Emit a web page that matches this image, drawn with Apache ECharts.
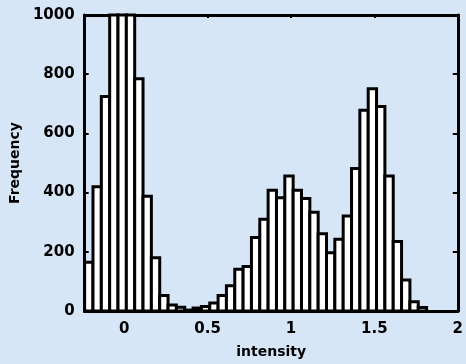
<!DOCTYPE html>
<html>
<head>
<meta charset="utf-8">
<script src="https://cdn.jsdelivr.net/npm/echarts@6/dist/echarts.min.js"></script>
<style>
  html, body { margin: 0; padding: 0; background: #d7e6f6; }
  #chart { width: 466px; height: 364px; }
</style>
</head>
<body>
<div id="chart"></div>
<script>
// histogram bins: first left edge and bin width (x units)
const binStart = -0.237;
const binWidth = 0.05;
// counts per bin (the three >1000 bins run off the top)
const counts = [
  165, 420, 725, 1150, 1150, 1150, 785, 388, 180, 52,
  20, 13, 3, 10, 15, 27, 52, 85, 141, 150,
  248, 310, 408, 383, 456, 408, 380, 334, 261, 197,
  242, 321, 481, 678, 751, 691, 456, 235, 105, 31,
  12
];
const xTicks = [0, 0.5, 1, 1.5, 2];
const yTicks = [0, 200, 400, 600, 800, 1000];

const bins = counts.map((c, i) => [binStart + i * binWidth, binStart + (i + 1) * binWidth, c]);

const font = { fontFamily: "DejaVu Sans", fontWeight: "bold", color: "#000" };

function renderBin(params, api) {
  const p0 = api.coord([api.value(0), 0]);
  const p1 = api.coord([api.value(1), api.value(2)]);
  const cs = params.coordSys;
  const shape = echarts.graphic.clipRectByRect(
    { x: p0[0], y: p1[1], width: p1[0] - p0[0], height: p0[1] - p1[1] },
    { x: cs.x, y: cs.y, width: cs.width, height: cs.height }
  );
  return shape && {
    type: "rect",
    shape: shape,
    style: { fill: "#fff", stroke: "#000", lineWidth: 3 },
  };
}

const chart = echarts.init(document.getElementById("chart"));
const line = { show: true, onZero: false, lineStyle: { color: "#000", width: 3 } };
const tick = (len) => ({ inside: true, length: len, lineStyle: { color: "#000", width: 2 } });
chart.setOption({
  backgroundColor: "#d7e6f6",
  animation: false,
  grid: { left: 82, right: 5, top: 15, bottom: 52 },
  xAxis: [
    {
      type: "value",
      min: binStart,
      max: 2,
      position: "bottom",
      name: "intensity",
      nameLocation: "middle",
      nameGap: 34,
      nameTextStyle: Object.assign({ fontSize: 14 }, font),
      axisLine: line,
      axisTick: Object.assign(tick(4), { customValues: xTicks }),
      axisLabel: Object.assign({ fontSize: 15, margin: 11, customValues: xTicks }, font),
      splitLine: { show: false },
    },
    {
      type: "value",
      min: binStart,
      max: 2,
      position: "top",
      axisLine: line,
      axisTick: Object.assign(tick(3), { customValues: xTicks }),
      axisLabel: { show: false },
      splitLine: { show: false },
    },
  ],
  yAxis: [
    {
      type: "value",
      min: yTicks[0],
      max: yTicks[yTicks.length - 1],
      interval: 200,
      position: "left",
      name: "Frequency",
      nameLocation: "middle",
      nameGap: 58,
      nameTextStyle: Object.assign({ fontSize: 14 }, font),
      axisLine: line,
      axisTick: tick(4),
      axisLabel: Object.assign({ fontSize: 15, margin: 10, formatter: (v) => String(v) }, font),
      splitLine: { show: false },
    },
    {
      type: "value",
      min: yTicks[0],
      max: yTicks[yTicks.length - 1],
      interval: 200,
      position: "right",
      axisLine: line,
      axisTick: tick(5),
      axisLabel: { show: false },
      splitLine: { show: false },
    },
  ],
  series: [
    {
      type: "custom",
      xAxisIndex: 0,
      yAxisIndex: 0,
      renderItem: renderBin,
      encode: { x: [0, 1], y: 2 },
      data: bins,
    },
  ],
});
</script>
</body>
</html>
